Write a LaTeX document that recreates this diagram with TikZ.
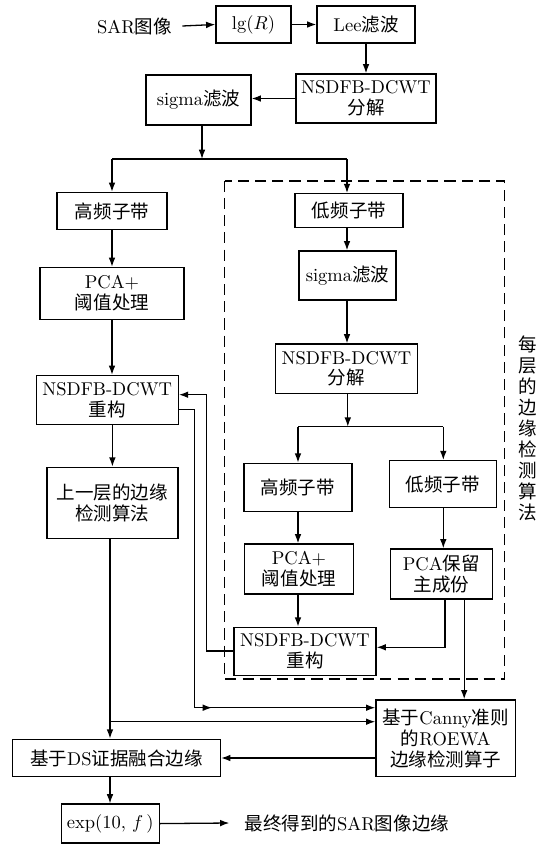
\documentclass[tikz,border=0pt]{standalone}
\usepackage{fontspec}
\newfontfamily\cjk{Noto Sans CJK SC}
\usetikzlibrary{arrows.meta}
\begin{document}
\begin{tikzpicture}[x=0.54pt,y=-0.54pt,
  every node/.style={font=\fontsize{10}{11.3}\selectfont},
  bx/.style 2 args={draw, line width=0.7pt, align=center, inner sep=0pt,
     minimum width=#1*0.54pt, minimum height=#2*0.54pt},
  ar/.style={-{Latex[length=5pt,width=3.6pt]}, line width=0.7pt},
  ln/.style={line width=0.7pt},
  dbox/.style={dash pattern=on 6pt off 3.3pt, line width=0.95pt},
  zh/.style={font=\cjk\fontsize{10}{11.3}\selectfont}
]
\useasboundingbox (0,0) rectangle (542,845);

% top row
\node[inner sep=0pt] (sar) at (134.5,26) {SAR{\cjk 图像}};
\node[bx={75}{37}] (lg) at (253.5,24.5) {$\lg(R)$};
\node[bx={98}{37}] (lee) at (366,24.5) {Lee{\cjk 滤波}};
\node[bx={140}{49}] (dec1) at (366,98.5) {NSDFB-DCWT\\{\cjk 分解}};
\node[bx={105}{50}] (sig1) at (198.5,100) {sigma{\cjk 滤波}};

\draw[ar] ([xshift=5.4pt]sar.east) -- (lg.west);
\draw[ar] (lg.east) -- (lee.west);
\draw[ar] (lee.south) -- (lee.south |- dec1.north);
\draw[ar] (dec1.west) -- (dec1.west -| sig1.east);

\coordinate (sp1) at (202,159);
\coordinate (spL) at (112,159);
\coordinate (spR) at (347,159);
\draw[ar] (sp1 |- sig1.south) -- (sp1);
\draw[ln] (spL) -- (spR);

% left column
\node[bx={110}{37}, zh] (hf1) at (112,211) {高频子带};
\node[bx={144}{52}] (pca1) at (112,293.5) {PCA+\\{\cjk 阈值处理}};
\node[bx={142}{49}] (rec1) at (107.3,400) {NSDFB-DCWT\\{\cjk 重构}};
\node[bx={131}{71.4}, zh] (prev) at (112.4,503) {上一层的边缘\\检测算法};
\node[bx={208}{37.4}] (ds) at (116.5,758) {{\cjk 基于}DS{\cjk 证据融合边缘}};
\node[bx={98}{39}] (exp) at (110.2,823.6) {$\exp(10,\,f\,)$};
\node[inner sep=0pt] (fin) at (346.8,823) {{\cjk 最终得到的}SAR{\cjk 图像边缘}};

\draw[ar] (spL) -- (spL |- hf1.north);
\draw[ar] (hf1.south) -- (pca1.north);
\draw[ar] (pca1.south) -- (pca1.south |- rec1.north);
\draw[ar] (prev.north |- rec1.south) -- (prev.north);

\coordinate (jL) at (110,721.7);
\draw[ar] (jL |- prev.south) -- (jL |- ds.north);
\draw[ar] (jL |- ds.south) -- (jL |- exp.north);
\draw[ar] (exp.east) -- ([xshift=-8pt]fin.west);

% dashed region
\draw[dbox] (224.5,180.7) rectangle (504.5,679.3);
\node[zh, align=center, inner sep=0pt] (vt) at (528,428.5) {每\\层\\的\\边\\缘\\检\\测\\算\\法};

\node[bx={108}{34}, zh] (lf1) at (349,210.7) {低频子带};
\node[bx={97}{49}] (sig2) at (347.5,275.5) {sigma{\cjk 滤波}};
\node[bx={142}{49.3}] (dec2) at (346.5,368.7) {NSDFB-DCWT\\{\cjk 分解}};
\node[bx={108}{48.4}, zh] (hf2) at (297.9,487.5) {高频子带};
\node[bx={107.5}{47}, zh] (lf2) at (442.9,484.2) {低频子带};
\node[bx={109}{50}] (pca2) at (299,569) {PCA+\\{\cjk 阈值处理}};
\node[bx={102}{50}] (pcak) at (441.3,574) {PCA{\cjk 保留}\\{\cjk 主成份}};
\node[bx={142}{48.4}] (rec2) at (305,651.5) {NSDFB-DCWT\\{\cjk 重构}};
\node[bx={139.5}{76.7}] (canny) at (445.7,738.3) {{\cjk 基于}Canny{\cjk 准则}\\{\cjk 的}ROEWA\\{\cjk 边缘检测算子}};

\draw[ar] (spR) -- (spR |- lf1.north);
\draw[ar] (spR |- lf1.south) -- (spR |- sig2.north);
\draw[ar] (spR |- sig2.south) -- (spR |- dec2.north);

\coordinate (sp2) at (347.8,426.7);
\coordinate (sp2L) at (298,426.7);
\coordinate (sp2R) at (443.3,426.7);
\draw[ar] (sp2 |- dec2.south) -- (sp2);
\draw[ln] (sp2L) -- (sp2R);
\draw[ar] (sp2L) -- (sp2L |- hf2.north);
\draw[ar] (sp2R) -- (sp2R |- lf2.north);
\draw[ar] (sp2L |- hf2.south) -- (sp2L |- pca2.north);
\draw[ar] (sp2L |- pca2.south) -- (sp2L |- rec2.north);
\draw[ar] (sp2R |- lf2.south) -- (sp2R |- pcak.north);

\coordinate (k1) at (445,647.3);
\draw[ar] (k1 |- pcak.south) -- (k1) -- (k1 -| rec2.east);
\coordinate (k2) at (464.2,0);
\draw[ar] (k2 |- pcak.south) -- (k2 |- canny.north);

% feedback lines
\coordinate (r1) at (206.6,651);
\coordinate (r2) at (206.6,394.7);
\draw[ar] (r1 -| rec2.west) -- (r1) -- (r2) -- (r2 -| rec1.east);

\coordinate (q1) at (194.6,409.3);
\coordinate (q2) at (194.6,707.7);
\coordinate (q3) at (212,707.7);
\draw[ar] (q1 -| rec1.east) -- (q1) -- (q2) -- (q2 -| canny.west);
\draw[ar] (q2) -- (q3);

\draw[ar] (jL) -- (jL -| canny.west);
\draw[ar] (ds.east -| canny.west) -- (ds.east);
\end{tikzpicture}
\end{document}
